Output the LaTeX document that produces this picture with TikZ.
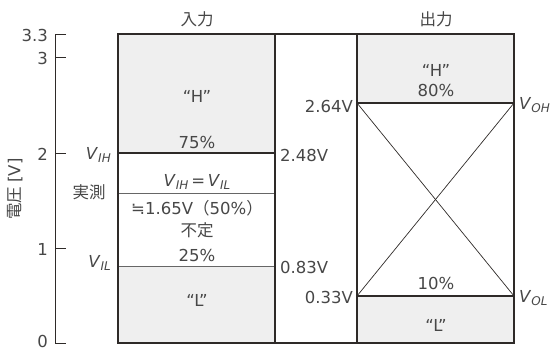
\documentclass[tikz,border=0pt]{standalone}
\usepackage{fontspec}
\setmainfont{DejaVu Sans}
\newfontfamily\cjk{Noto Sans CJK JP}
\definecolor{txt}{HTML}{474747}
\definecolor{linec}{HTML}{2E2A28}
\definecolor{fillg}{HTML}{EFEFEF}
\newcommand\vsub[2]{\textit{#1}\raisebox{-0.3ex}{\fontsize{12}{12}\selectfont\textit{#2}}}
\begin{document}
\begin{tikzpicture}[x=1pt,y=-1pt,
  lbl/.style={text=txt,font=\fontsize{16.5}{18}\selectfont,inner sep=0pt},
  frame/.style={draw=linec,line width=1.1pt},
  lvl/.style={draw=linec,line width=1.1pt},
  midline/.style={draw=gray!80!black,line width=0.9pt},
  crossline/.style={draw=linec,line width=0.7pt},
  axisline/.style={draw=linec,line width=1pt}]
\useasboundingbox (0,0) rectangle (551,351);
% coordinates
\coordinate (iTL) at (118,34); \coordinate (iBR) at (275,343);
\coordinate (oTL) at (357,34); \coordinate (oBR) at (514,343);
\coordinate (ohL) at (357,103); \coordinate (ohR) at (514,103);
\coordinate (olL) at (357,296); \coordinate (olR) at (514,296);
\coordinate (ihL) at (118,153); \coordinate (ihR) at (275,153);
\coordinate (imL) at (118,193); \coordinate (imR) at (275,193);
\coordinate (ilL) at (118,266); \coordinate (ilR) at (275,266);
% fills
\fill[fillg] (iTL) rectangle (ihR);
\fill[fillg] (ilL) rectangle (iBR);
\fill[fillg] (oTL) rectangle (ohR);
\fill[fillg] (olL) rectangle (oBR);
% level lines
\draw[lvl] (ihL) -- (ihR);
\draw[midline] (imL) -- (imR);
\draw[midline] (ilL) -- (ilR);
\draw[lvl] (ohL) -- (ohR);
\draw[lvl] (olL) -- (olR);
\draw[crossline] (ohL) -- (olR);
\draw[crossline] (olL) -- (ohR);
% frames
\draw[frame] (iTL) rectangle (oBR);
\draw[frame] (275,34) -- (275,343);
\draw[frame] (357,34) -- (357,343);
% axis
\coordinate (a33) at (55,34); \coordinate (a3) at (55,57);
\coordinate (a2) at (55,153); \coordinate (a1) at (55,248); \coordinate (a0) at (55,343);
\draw[axisline] (66,34) -- (a33) -- (a0) -- (66,343);
\draw[axisline] (a3) -- (66,57);
\draw[axisline] (a2) -- (66,153);
\draw[axisline] (a1) -- (66,248);
\node[lbl,anchor=east] (t33) at (48,35) {3.3};
\node[lbl,anchor=east] (t3) at (48,58) {3};
\node[lbl,anchor=east] (t2) at (48,154) {2};
\node[lbl,anchor=east] (t1) at (48,249) {1};
\node[lbl,anchor=east] (t0) at (48,341) {0};
\node[lbl,rotate=90] (ylab) at (15,189) {{\cjk 電圧}\hspace{4pt}[V]};
% headings
\node[lbl] (hin) at (197,19) {\cjk 入力};
\node[lbl] (hout) at (436,19) {\cjk 出力};
% left labels
\node[lbl,anchor=east] (vih) at (111,155) {\vsub{V}{IH}};
\node[lbl] (jissoku) at (89,192) {\cjk 実測};
\node[lbl,anchor=east] (vil) at (111,263) {\vsub{V}{IL}};
% input box texts
\node[lbl] (inH) at (197,96) {“H”};
\node[lbl] (in75) at (197,142) {75\%};
\node[lbl] (ineq) at (197,182) {\vsub{V}{IH}\,=\,\vsub{V}{IL}};
\node[lbl] (in165) at (197,208) {≒1.65V{\cjk （}50\%{\cjk ）}};
\node[lbl] (infutei) at (197,230) {\cjk 不定};
\node[lbl] (in25) at (197,255) {25\%};
\node[lbl] (inL) at (197,300) {“L”};
% middle column
\node[lbl,anchor=east] (v264) at (353,106) {2.64V};
\node[lbl,anchor=west] (v248) at (280,155) {2.48V};
\node[lbl,anchor=west] (v083) at (280,267) {0.83V};
\node[lbl,anchor=east] (v033) at (353,297) {0.33V};
% output box texts
\node[lbl] (outH) at (436,70) {“H”};
\node[lbl] (out80) at (436,90) {80\%};
\node[lbl] (out10) at (436,283) {10\%};
\node[lbl] (outL) at (436,325) {“L”};
\node[lbl,anchor=west] (voh) at (519,105) {\vsub{V}{OH}};
\node[lbl,anchor=west] (vol) at (519,298) {\vsub{V}{OL}};
\end{tikzpicture}
\end{document}
